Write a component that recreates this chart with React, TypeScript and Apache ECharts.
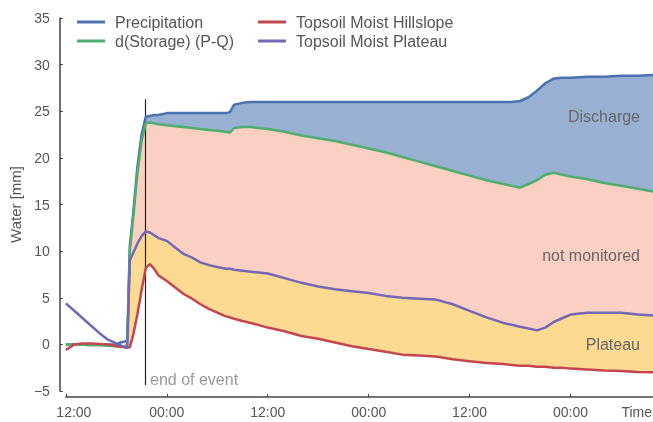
import React, { useEffect, useRef } from "react";
import * as echarts from "echarts";

// Hours since 12:00 on the first day
const hours = [
  0, 1, 2, 3, 4, 5, 6, 6.5, 7, 7.3, 7.6, 8, 8.5, 9, 9.5, 10, 10.5, 11, 12, 13,
  14, 15, 16, 17, 18, 19, 19.5, 20, 21, 22, 24, 26, 28, 30, 32, 34, 36, 38, 40,
  42, 44, 46, 48, 50, 52, 53, 54, 55, 56, 57, 58, 59, 60, 62, 64, 66, 68, 69.8,
];

// Cumulative precipitation [mm]
const precipitation = [
  0, 0, 0, 0, 0, 0, 0, 0.2, 0.3, 0.4, 10.5, 14, 19, 22.5, 24.4, 24.5, 24.6, 24.6,
  24.8, 24.8, 24.8, 24.8, 24.8, 24.8, 24.8, 24.8, 24.9, 25.7, 25.9, 26.0, 26.0,
  26.0, 26.0, 26.0, 26.0, 26.0, 26.0, 26.0, 26.0, 26.0, 26.0, 26.0, 26.0, 26.0,
  26.0, 26.0, 26.1, 26.5, 27.2, 28.0, 28.5, 28.6, 28.6, 28.7, 28.7, 28.8, 28.8,
  28.9,
];

// Storage change P - Q [mm]
const storage = [
  0, 0, -0.05, -0.1, -0.1, -0.15, -0.2, -0.2, -0.25, 0, 10, 13.5, 18.3, 21.8,
  23.7, 23.8, 23.7, 23.6, 23.5, 23.4, 23.3, 23.2, 23.1, 23.0, 22.9, 22.8, 22.7,
  23.2, 23.3, 23.3, 23.1, 22.8, 22.4, 22.1, 21.8, 21.4, 21.0, 20.6, 20.1, 19.6,
  19.1, 18.6, 18.1, 17.6, 17.2, 17.0, 16.8, 17.2, 17.6, 18.2, 18.4, 18.2, 18.0,
  17.7, 17.3, 17.0, 16.7, 16.4,
];

// Topsoil moisture, hillslope [mm]
const hillslope = [
  -0.6, 0, 0.1, 0.1, 0.05, 0, -0.2, -0.25, -0.3, -0.35, -0.3, 1.0, 3.2, 5.8, 8.2,
  8.6, 8.1, 7.4, 6.8, 6.1, 5.4, 4.9, 4.3, 3.8, 3.4, 3.0, 2.9, 2.75, 2.5, 2.3,
  1.8, 1.4, 0.9, 0.6, 0.2, -0.2, -0.5, -0.8, -1.1, -1.2, -1.3, -1.6, -1.8, -2.0,
  -2.1, -2.2, -2.3, -2.3, -2.4, -2.4, -2.5, -2.5, -2.6, -2.7, -2.8, -2.85, -2.95,
  -3.0,
];

// Topsoil moisture, plateau [mm]
const plateau = [
  4.4, 3.6, 2.8, 2.0, 1.2, 0.5, 0.1, -0.1, -0.3, -0.4, 9.0, 9.8, 10.8, 11.6,
  12.1, 12.0, 11.7, 11.4, 11.1, 10.4, 9.7, 9.3, 8.8, 8.5, 8.3, 8.1, 8.1, 8.0,
  7.9, 7.8, 7.6, 7.1, 6.6, 6.2, 5.9, 5.7, 5.5, 5.2, 5.0, 4.9, 4.8, 4.3, 3.6, 2.9,
  2.3, 2.1, 1.9, 1.7, 1.5, 1.8, 2.4, 2.8, 3.2, 3.4, 3.4, 3.4, 3.2, 3.1,
];

const xTickLabels = ["12:00", "00:00", "12:00", "00:00", "12:00", "00:00"];
const eventEnd = 9.4;
const eventLine = [26.3, -4.35];
const fillStart = 9; // index where the event begins

const FONT = "'Liberation Sans', Arial, Helvetica, sans-serif";
const TEXT = "#555";
const AXIS = "#444";

const C = {
  precip: "#4a72b1",
  storage: "#4fae6d",
  hill: "#c5454f",
  plat: "#7468b6",
  discharge: "#98b0d2",
  notMon: "#f9d0c2",
  platFill: "#fdda92",
};

const pts = (ys: number[]) => hours.map((h, i) => [h, ys[i]]);

export default function App() {
  const ref = useRef<HTMLDivElement>(null);

  useEffect(() => {
    if (!ref.current) return;
    const chart = echarts.init(ref.current, null, { renderer: "svg" });

    const lineSeries = (name: string, ys: number[], color: string, extra = {}) => ({
      name,
      type: "line",
      data: pts(ys),
      symbol: "none",
      z: 5,
      lineStyle: { color, width: 2.5 },
      itemStyle: { color },
      ...extra,
    });

    // Shaded band between a lower and an upper series, from the event start on
    const bandSeries = (name: string, lower: number[], upper: number[], color: string) => ({
      name,
      type: "custom",
      silent: true,
      z: 1,
      clip: true,
      data: [[hours[fillStart], lower[fillStart]]],
      renderItem: (_params: any, api: any) => {
        const top: number[][] = [];
        const bottom: number[][] = [];
        for (let i = fillStart; i < hours.length; i++) {
          top.push(api.coord([hours[i], upper[i]]));
          bottom.push(api.coord([hours[i], lower[i]]));
        }
        return {
          type: "polygon",
          shape: { points: top.concat(bottom.reverse()) },
          style: { fill: color, stroke: color, lineWidth: 0.5 },
        };
      },
    });

    const note = (text: string, top: number, fill: string) => ({
      type: "text",
      right: 13,
      top,
      z: 100,
      style: { text, fill, font: `16px ${FONT}` },
    });

    const option = {
      animation: false,
      textStyle: { fontFamily: FONT },
      grid: { left: 65, right: 0, top: 18, bottom: 31 },
      legend: [
        {
          orient: "vertical",
          left: 72,
          top: 9,
          itemGap: 3,
          itemWidth: 28,
          itemHeight: 3,
          icon: "rect",
          data: ["Precipitation", "d(Storage) (P-Q)"],
          textStyle: { fontSize: 16, color: TEXT, fontFamily: FONT, padding: [0, 0, 0, 5] },
        },
        {
          orient: "vertical",
          left: 253,
          top: 9,
          itemGap: 3,
          itemWidth: 28,
          itemHeight: 3,
          icon: "rect",
          data: ["Topsoil Moist Hillslope", "Topsoil Moist Plateau"],
          textStyle: { fontSize: 16, color: TEXT, fontFamily: FONT, padding: [0, 0, 0, 5] },
        },
      ],
      xAxis: {
        type: "value",
        min: 0,
        max: 69.8,
        interval: 12,
        offset: 6,
        axisLine: { onZero: false, lineStyle: { color: AXIS, width: 1.5 } },
        axisTick: { inside: true, length: 3, lineStyle: { color: AXIS } },
        splitLine: { show: false },
        axisLabel: {
          color: TEXT,
          fontSize: 14,
          fontFamily: FONT,
          margin: 8,
          showMaxLabel: false,
          formatter: (v: number) => {
            const k = Math.round(v / 12);
            if (Math.abs(v - k * 12) > 1e-6 || k >= xTickLabels.length) return "";
            return k === 0 ? `{first|${xTickLabels[0]}}` : xTickLabels[k];
          },
          rich: {
            first: { fontSize: 14, color: TEXT, fontFamily: FONT, padding: [0, 0, 0, 16] },
          },
        },
      },
      yAxis: {
        type: "value",
        min: -5,
        max: 35,
        interval: 5,
        offset: 6,
        name: "Water [mm]",
        nameLocation: "middle",
        nameGap: 26,
        nameTextStyle: { fontSize: 15, color: TEXT, fontFamily: FONT },
        axisLine: { show: true, onZero: false, lineStyle: { color: AXIS, width: 1.5 } },
        axisTick: { show: true, inside: true, length: 3, lineStyle: { color: AXIS } },
        splitLine: { show: false },
        axisLabel: {
          color: TEXT,
          fontSize: 14,
          fontFamily: FONT,
          margin: 10,
          formatter: (v: number) => (v < 0 ? "\u2212" + Math.abs(v) : String(v)),
        },
      },
      series: [
        bandSeries("Plateau band", hillslope, plateau, C.platFill),
        bandSeries("not monitored", plateau, storage, C.notMon),
        bandSeries("Discharge", storage, precipitation, C.discharge),
        lineSeries("Precipitation", precipitation, C.precip),
        lineSeries("d(Storage) (P-Q)", storage, C.storage),
        lineSeries("Topsoil Moist Hillslope", hillslope, C.hill),
        lineSeries("Topsoil Moist Plateau", plateau, C.plat, {
          markLine: {
            silent: true,
            symbol: "none",
            label: { show: false },
            lineStyle: { color: "#222", width: 1.2, type: "solid" },
            data: [[{ coord: [eventEnd, eventLine[0]] }, { coord: [eventEnd, eventLine[1]] }]],
          },
        }),
      ],
      graphic: [
        { type: "text", left: 150, top: 371, z: 100, style: { text: "end of event", fill: "#999", font: `16px ${FONT}` } },
        note("Discharge", 108, "#666"),
        note("not monitored", 247, "#666"),
        note("Plateau", 336, "#666"),
        { type: "text", right: 1, top: 405, z: 100, style: { text: "Time", fill: TEXT, font: `14px ${FONT}` } },
      ],
    };

    chart.setOption(option as any);
    return () => chart.dispose();
  }, []);

  return (
    <div
      ref={ref}
      style={{ position: "fixed", left: 0, top: 0, width: 653, height: 422 }}
    />
  );
}
